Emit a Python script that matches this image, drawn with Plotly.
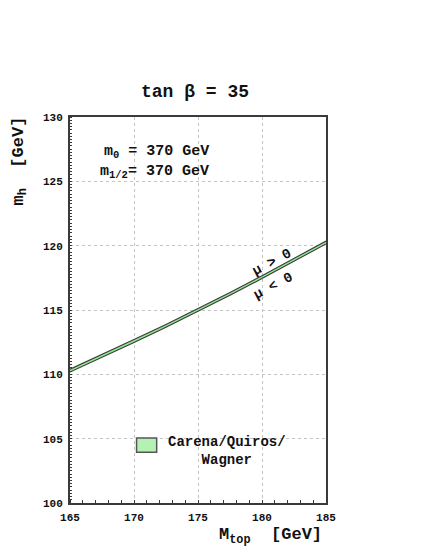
import plotly.graph_objects as go

# Data
m_top = [165, 167.5, 170, 172.5, 175, 177.5, 180, 182.5, 185]
mh_mu_pos = [110.4, 111.53, 112.7, 113.88, 115.1, 116.36, 117.66, 118.98, 120.36]
mh_mu_neg = [110.18, 111.31, 112.48, 113.66, 114.88, 116.14, 117.44, 118.76, 120.14]
x_ticks = [165, 170, 175, 180, 185]
y_ticks = [100, 105, 110, 115, 120, 125, 130]

FONT = "Liberation Mono"
DARK = "#3a3a3a"
GREEN = "#8fe88f"
TXT = "#111"

fig = go.Figure()
fig.add_trace(go.Scatter(x=m_top, y=mh_mu_neg, mode="lines",
                         line=dict(color=DARK, width=1.1), showlegend=False,
                         hoverinfo="skip"))
fig.add_trace(go.Scatter(x=m_top, y=mh_mu_pos, mode="lines", fill="tonexty",
                         fillcolor=GREEN, line=dict(color=DARK, width=1.1),
                         showlegend=False, hoverinfo="skip"))

axis_common = dict(
    showline=True, linecolor=DARK, linewidth=2, mirror=True,
    showgrid=True, gridcolor="#c4c4c4", griddash="dot", gridwidth=1,
    zeroline=False, ticks="", ticklabelstandoff=3,
    tickfont=dict(family=FONT, size=11, color=TXT, weight="bold"),
)

fig.update_xaxes(range=[165, 185], tickvals=x_ticks, **axis_common,
                 minor=dict(dtick=1, ticks="inside", ticklen=3, tickcolor=DARK, showgrid=False))
fig.update_yaxes(range=[100, 130], tickvals=y_ticks, **axis_common,
                 minor=dict(dtick=0.25, ticks="inside", ticklen=2, tickcolor=DARK, showgrid=False))

bold = lambda s: dict(family=FONT, size=s, color=TXT, weight="bold")

annotations = [
    dict(text="tan \u03b2 = 35", xref="paper", yref="paper", x=0.49, y=1.0, yshift=25,
         yanchor="middle", showarrow=False, font=bold(18)),
    dict(text="m<sub>0</sub> = 370 GeV", xref="x", yref="y", x=176.0, y=127.3,
         xanchor="right", showarrow=False, font=bold(15)),
    dict(text="m<sub>1/2</sub>= 370 GeV", xref="x", yref="y", x=176.0, y=125.75,
         xanchor="right", showarrow=False, font=bold(15)),
    dict(text="\u03bc > 0", xref="x", yref="y", x=180.8, y=118.7, textangle=-28,
         showarrow=False, font=bold(14)),
    dict(text="\u03bc < 0", xref="x", yref="y", x=180.85, y=116.9, textangle=-28,
         showarrow=False, font=bold(14)),
    dict(text="Carena/Quiros/<br>Wagner", xref="x", yref="y", x=177.25, y=104.05,
         align="center", showarrow=False, font=bold(14)),
    dict(text="M<sub>top</sub>  [GeV]", xref="paper", yref="paper", x=1.0, xshift=-2,
         y=0, yshift=-33, xanchor="right", yanchor="middle", showarrow=False, font=bold(17)),
    dict(text="m<sub>h</sub>  [GeV]", xref="paper", yref="paper", x=0, xshift=-50, y=0.885,
         textangle=-90, xanchor="center", yanchor="middle", showarrow=False, font=bold(17)),
]

shapes = [
    dict(type="rect", xref="x", yref="y", x0=170.2, x1=171.77, y0=103.95, y1=105.05,
         fillcolor="#b4f2b4", line=dict(color="#555", width=1.5)),
]

# page body has an 8px margin, so the figure is sized/positioned to compensate
fig.update_layout(
    width=419, height=545,
    margin=dict(l=62, r=101, t=109, b=50),
    plot_bgcolor="white", paper_bgcolor="white",
    annotations=annotations, shapes=shapes,
    showlegend=False,
)

fig.write_html("out.html")
